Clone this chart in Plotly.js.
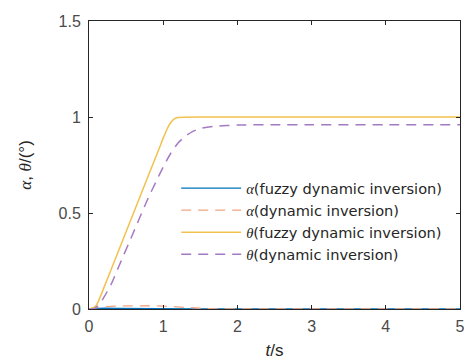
<!DOCTYPE html>
<html>
<head>
<meta charset="utf-8">
<script src="https://cdn.plot.ly/plotly-3.0.1.min.js"></script>
<style>html,body{margin:0;padding:0;background:#fff;}#chart{width:464px;height:360px;}</style>
</head>
<body>
<div id="chart"></div>
<script>
// time samples and series values
var tAlphaFuzzy = [0, 0.1, 0.2, 0.4, 0.6, 0.8, 1.0, 1.2, 1.5, 2, 3, 4, 5];
var alphaFuzzy  = [0, 0.003, 0.004, 0.003, 0.002, 0.002, 0.001, 0.001, 0.0, 0.0, 0.0, 0.0, 0.0];

var tAlphaDI = [0, 0.1, 0.2, 0.4, 0.6, 0.8, 1.0, 1.2, 1.4, 1.6, 1.8, 2, 3, 4, 5];
var alphaDI  = [0, 0.006, 0.012, 0.016, 0.017, 0.017, 0.015, 0.01, 0.005, 0.002, 0.0, 0.0, 0.0, 0.0, 0.0];

var tThetaFuzzy = [0, 0.05, 0.1, 0.2, 0.4, 0.6, 0.8, 0.95, 1.0, 1.05, 1.1, 1.15, 1.2, 1.5, 2, 3, 4, 5];
var thetaFuzzy  = [0, 0.005, 0.02, 0.11, 0.305, 0.5, 0.695, 0.84, 0.89, 0.935, 0.97, 0.99, 0.997, 1.0, 1.0, 1.0, 1.0, 1.0];

var tThetaDI = [0, 0.05, 0.1, 0.15, 0.2, 0.3, 0.4, 0.6, 0.8, 0.9, 1.0, 1.1, 1.2, 1.3, 1.4, 1.5, 1.7, 2.0, 2.5, 3, 4, 5];
var thetaDI  = [0, 0.0, 0.01, 0.03, 0.06, 0.13, 0.22, 0.4, 0.58, 0.66, 0.74, 0.81, 0.865, 0.9, 0.925, 0.94, 0.952, 0.958, 0.96, 0.96, 0.96, 0.96];

var xTicks = [0, 1, 2, 3, 4, 5];
var yTicks = [0, 0.5, 1, 1.5];
var yTickText = ['0', '0.5', '1', '1.5'];

var G = function(s){ return '<span style="font-family:\'Liberation Serif\',serif"><i>' + s + '</i></span>'; };
var names = [
  G('α') + '(fuzzy dynamic inversion)',
  G('α') + '(dynamic inversion)',
  G('θ') + '(fuzzy dynamic inversion)',
  G('θ') + '(dynamic inversion)'
];

var traces = [
  {x: tAlphaFuzzy, y: alphaFuzzy, name: names[0], mode: 'lines', line: {color: '#0072BD', width: 1.3}},
  {x: tAlphaDI, y: alphaDI, name: names[1], mode: 'lines', line: {color: '#F2A583', width: 1.3, dash: '10px,7px'}},
  {x: tThetaFuzzy, y: thetaFuzzy, name: names[2], mode: 'lines', line: {color: '#F2C14E', width: 1.5, shape: 'spline', smoothing: 0.6}},
  {x: tThetaDI, y: thetaDI, name: names[3], mode: 'lines', line: {color: '#A47BC2', width: 1.5, dash: '10px,7px', shape: 'spline', smoothing: 0.6}}
];

var tickFont = {family: 'Liberation Sans, Arial, sans-serif', size: 16, color: '#4a4a4a'};
var axisCommon = {
  showgrid: false, zeroline: false, showline: true, mirror: 'ticks',
  linecolor: '#262626', linewidth: 1, ticks: 'inside', ticklen: 4, tickcolor: '#262626',
  tickfont: tickFont, automargin: false, ticklabeloverflow: 'allow'
};

var layout = {
  width: 464, height: 360,
  margin: {l: 89, r: 4, t: 21, b: 51},
  paper_bgcolor: '#ffffff', plot_bgcolor: '#ffffff',
  showlegend: true,
  legend: {
    x: 0.235, y: 0.475, xanchor: 'left', yanchor: 'top',
    bgcolor: 'rgba(255,255,255,0)', borderwidth: 0,
    itemwidth: 60, tracegroupgap: 0,
    font: {family: 'DejaVu Sans, sans-serif', size: 14.6, color: '#262626'}
  },
  xaxis: Object.assign({}, axisCommon, {
    range: [0, 5], tickvals: xTicks, ticklabelstandoff: 3,
    title: {text: '<i>t</i>/s', font: {family: 'Liberation Sans, Arial, sans-serif', size: 17, color: '#262626'}, standoff: 26}
  }),
  yaxis: Object.assign({}, axisCommon, {
    range: [0, 1.5], tickvals: yTicks, ticktext: yTickText, ticklabelstandoff: 4,
    title: {text: G('α') + ', ' + G('θ') + '/(°)', font: {family: 'Liberation Sans, Arial, sans-serif', size: 17, color: '#262626'}, standoff: 22}
  })
};

Plotly.newPlot('chart', traces, layout, {displayModeBar: false, staticPlot: true});
</script>
</body>
</html>
